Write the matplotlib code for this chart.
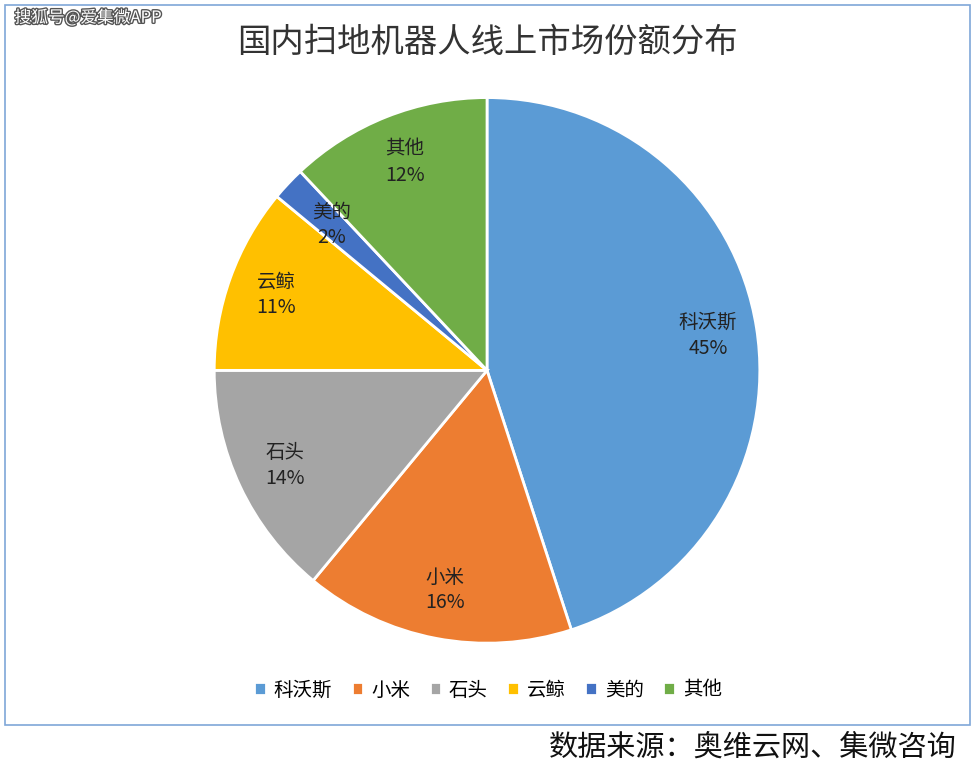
import numpy as np
import matplotlib
matplotlib.use("Agg")
import matplotlib.pyplot as plt
from matplotlib.patches import Rectangle
import matplotlib.patheffects as pe

plt.rcParams['font.family'] = ['Noto Sans CJK SC', 'DejaVu Sans']

brands = ["科沃斯", "小米", "石头", "云鲸", "美的", "其他"]
shares = [45, 16, 14, 11, 2, 12]
colors = ["#5B9BD5", "#ED7D31", "#A5A5A5", "#FFC000", "#4472C4", "#70AD47"]

fig = plt.figure(figsize=(9.76, 7.70), dpi=100)

# outer frame
fig.patches.append(Rectangle((5 / 976, 1 - 725 / 770), 965 / 976, 720 / 770,
                             transform=fig.transFigure, fill=False,
                             edgecolor="#7FA7D8", linewidth=1.2))

ax = fig.add_axes([0.499 - 0.2795, 0.519 - 0.3545, 0.559, 0.709])
wedges, _ = ax.pie(shares, colors=colors, startangle=90, counterclock=False,
                   wedgeprops=dict(edgecolor="white", linewidth=2))
ax.set_aspect("equal")
ax.set_xlim(-1.0, 1.0)
ax.set_ylim(-1.0, 1.0)

for w, name, v in zip(wedges, brands, shares):
    ang = np.deg2rad((w.theta1 + w.theta2) / 2)
    r = 0.82 if v > 5 else 0.78
    ax.text(r * np.cos(ang), r * np.sin(ang), f"{name}\n{v}%",
            ha="center", va="center", fontsize=14, color="#222222",
            linespacing=1.3)

fig.text(0.499, 1 - 42 / 770, "国内扫地机器人线上市场份额分布",
         ha="center", va="center", fontsize=24, color="#333333")

ax.legend(wedges, brands, loc="center", bbox_to_anchor=(0.5, 1 - 690 / 770),
          bbox_transform=fig.transFigure, ncol=6, frameon=False,
          fontsize=14, handlelength=0.6, handleheight=0.6,
          columnspacing=1.0, handletextpad=0.4)

fig.text(0.98, 1 - 748 / 770, "数据来源：奥维云网、集微咨询",
         ha="right", va="center", fontsize=21, color="#111111")

fig.text(0.015, 1 - 18 / 770, "搜狐号@爱集微APP", ha="left", va="center",
         fontsize=12, color="white",
         path_effects=[pe.withStroke(linewidth=2, foreground="#555555")])

fig.savefig("out.png", dpi=100)
